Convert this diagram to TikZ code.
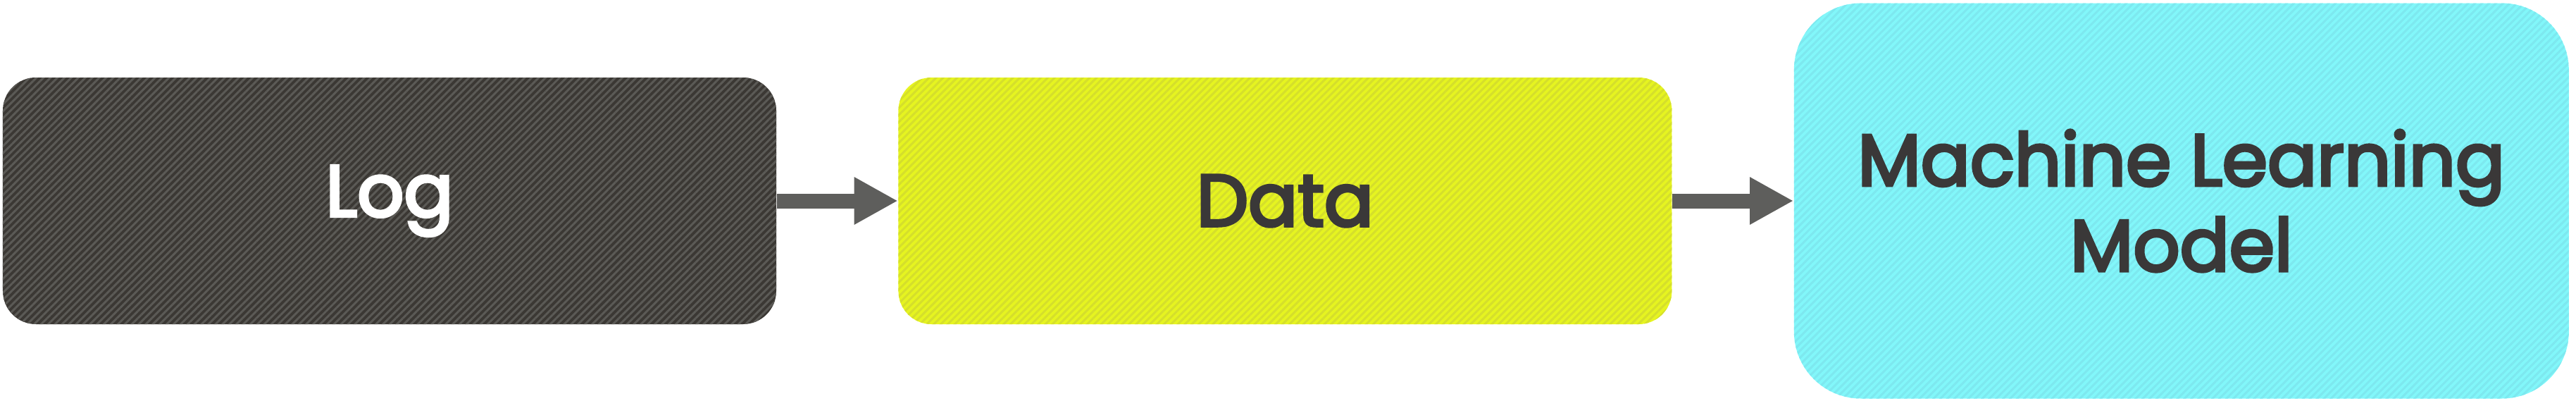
\documentclass[tikz,border=0pt]{standalone}
\usepackage{fontspec}
\setmainfont{Poppins}[BoldFont=*,BoldFeatures={FakeBold=4}]
\usepackage{tikz}
\usetikzlibrary{arrows.meta,patterns.meta,positioning}
\definecolor{logbase}{HTML}{3B3834}
\definecolor{logline}{HTML}{5B5A56}
\definecolor{database}{HTML}{E6F420}
\definecolor{dataline}{HTML}{D5DF2C}
\definecolor{mlbase}{HTML}{82F7FA}
\definecolor{mlline}{HTML}{7DE8EF}
\definecolor{flowgray}{HTML}{5E5E5C}
\definecolor{textgray}{HTML}{3A3838}

\begin{document}
\begin{tikzpicture}[node distance=1.72cm,>={Triangle[length=0.62cm,width=0.63cm]}]
  \tikzstyle{stage}=[rectangle,rounded corners=4.7mm,minimum width=10.98cm,minimum height=3.5cm,
                     font=\fontsize{29.5}{34.5}\selectfont\bfseries,text=textgray,align=center]
  \tikzstyle{hatch}=[postaction={pattern={Lines[angle=45,distance=0.07cm,line width=0.03cm]},pattern color=#1}]
  \tikzstyle{flow}=[->,draw=flowgray,line width=0.21cm]

  \useasboundingbox (0,0) rectangle (36.57,5.68);

  % Input stage.
  \node [stage,fill=logbase,hatch=logline,text=white] (log) at (5.53,2.83) {Log};
  % Middle stage.
  \node [stage,fill=database,hatch=dataline] (data) [right=of log] {Data};
  % Output stage, taller.
  \node [stage,fill=mlbase,hatch=mlline,rounded corners=9.5mm,minimum width=11cm,minimum height=5.61cm]
        (ml) [right=of data] {Machine Learning\\Model};

  \path (log) edge [flow] (data);
  \path (data) edge [flow] (ml);
\end{tikzpicture}
\end{document}
